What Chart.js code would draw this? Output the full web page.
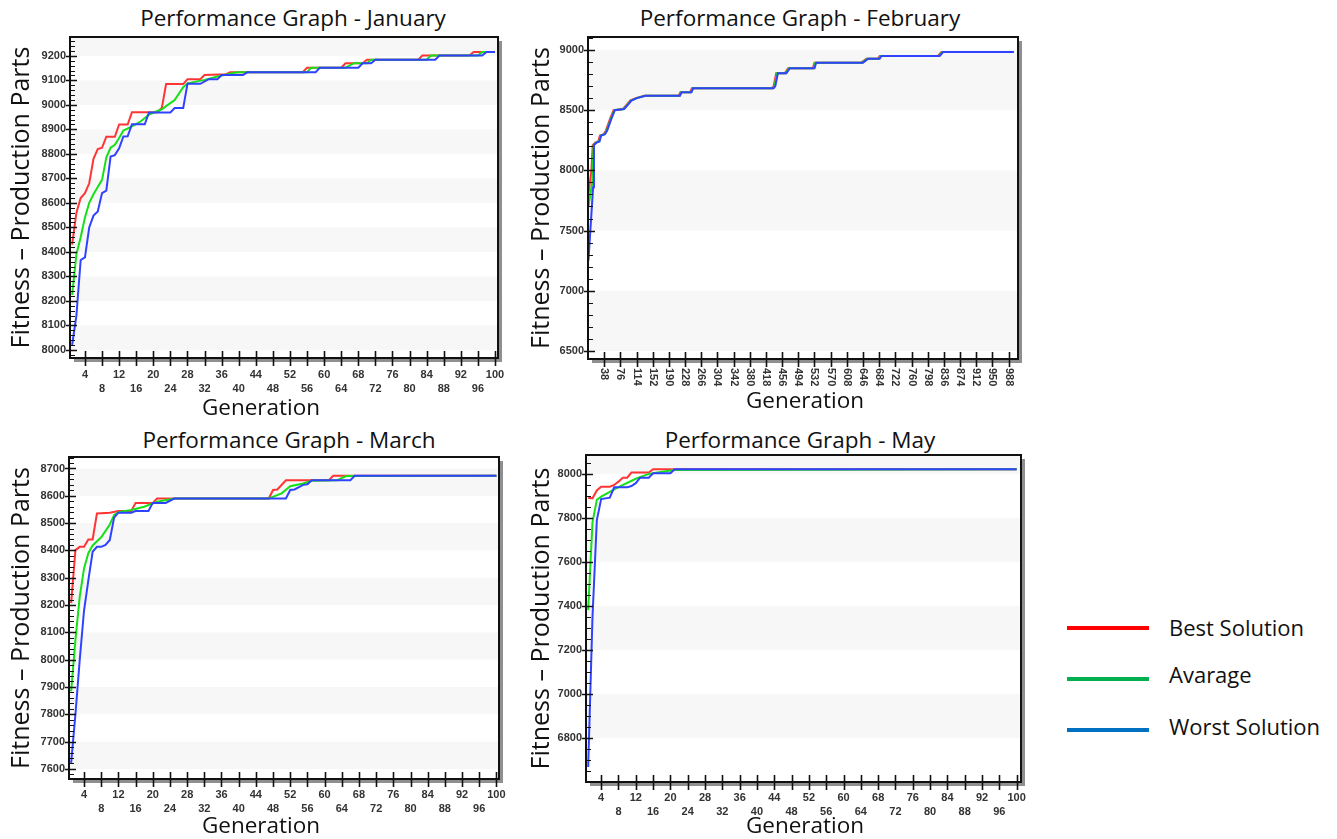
<!DOCTYPE html>
<html>
<head>
<meta charset="utf-8">
<script src="https://cdn.jsdelivr.net/npm/chart.js@4.4.1/dist/chart.umd.min.js"></script>
<style>
  body { margin: 0; background: #fff; }
  #page { position: relative; width: 1337px; height: 839px; overflow: hidden; font-family: "Open Sans", sans-serif; color: #111; }
  .panel { position: absolute; }
  .ttl { position: absolute; width: 400px; text-align: center; font-size: 22.5px; line-height: 26px; white-space: nowrap; }
  .xt { position: absolute; width: 200px; text-align: center; font-size: 22.5px; line-height: 26px; }
  .leg { position: absolute; left: 1067px; width: 82px; height: 4px; }
  .legtxt { position: absolute; left: 1169px; font-size: 22px; line-height: 26px; white-space: nowrap; }
</style>
</head>
<body>
<div id="page">
  <div class="ttl" style="left:93px;top:5px">Performance Graph - January</div>
  <div class="ttl" style="left:600px;top:5px">Performance Graph - February</div>
  <div class="ttl" style="left:89px;top:427px">Performance Graph - March</div>
  <div class="ttl" style="left:600px;top:427px">Performance Graph - May</div>

  <canvas class="panel" id="janChart" width="520" height="420" style="left:0;top:0"></canvas>
  <canvas class="panel" id="febChart" width="520" height="420" style="left:520px;top:0"></canvas>
  <canvas class="panel" id="marChart" width="520" height="419" style="left:0;top:420px"></canvas>
  <canvas class="panel" id="mayChart" width="520" height="419" style="left:520px;top:420px"></canvas>

  <div class="xt" style="left:161px;top:394px">Generation</div>
  <div class="xt" style="left:705px;top:387px">Generation</div>
  <div class="xt" style="left:161px;top:812px">Generation</div>
  <div class="xt" style="left:705px;top:812px">Generation</div>

  <div class="leg" style="top:626px;background:#ff0000"></div>
  <div class="leg" style="top:677px;background:#00b050"></div>
  <div class="leg" style="top:728px;background:#0070c0"></div>
  <div class="legtxt" style="top:614px">Best Solution</div>
  <div class="legtxt" style="top:661px">Avarage</div>
  <div class="legtxt" style="top:713px">Worst Solution</div>
</div>
<script>
// ===== DATA =====
const genTicks = [4, 8, 12, 16, 20, 24, 28, 32, 36, 40, 44, 48, 52, 56, 60, 64, 68, 72, 76, 80, 84, 88, 92, 96, 100];
const febGenTicks = [38, 76, 114, 152, 190, 228, 266, 304, 342, 380, 418, 456, 494, 532, 570, 608, 646, 684, 722, 760, 798, 836, 874, 912, 950, 988];

const janYTicks = [8000, 8100, 8200, 8300, 8400, 8500, 8600, 8700, 8800, 8900, 9000, 9100, 9200];
const febYTicks = [6500, 7000, 7500, 8000, 8500, 9000];
const marYTicks = [7600, 7700, 7800, 7900, 8000, 8100, 8200, 8300, 8400, 8500, 8600, 8700];
const mayYTicks = [6800, 7000, 7200, 7400, 7600, 7800, 8000];

// [generation, fitness]
const janBest = [[1, 8430], [2, 8560], [3, 8620], [4, 8640], [5, 8680], [6, 8780], [7, 8820], [8, 8825], [9, 8870], [11, 8870], [12, 8920], [14, 8920], [15, 8970], [21, 8970], [22, 8988], [23, 9085], [27, 9085], [28, 9105], [31, 9105], [32, 9122], [37, 9125], [38, 9133], [55, 9133], [56, 9152], [64, 9152], [65, 9170], [69, 9170], [70, 9184], [82, 9184], [83, 9201], [94, 9201], [95, 9216], [100, 9216]];
const janAvg = [[1, 8225], [2, 8390], [3, 8460], [4, 8540], [5, 8600], [6, 8635], [7, 8665], [8, 8694], [9, 8785], [10, 8825], [11, 8837], [12, 8865], [13, 8895], [15, 8912], [17, 8932], [19, 8960], [20, 8968], [22, 8982], [23, 8995], [25, 9020], [27, 9072], [28, 9088], [32, 9102], [35, 9116], [39, 9131], [40, 9133], [56, 9133], [57, 9152], [65, 9152], [67, 9170], [70, 9170], [71, 9184], [84, 9184], [85, 9201], [96, 9201], [97, 9216], [100, 9216]];
const janWorst = [[1, 8020], [2, 8140], [3, 8367], [4, 8378], [5, 8500], [6, 8548], [7, 8565], [8, 8640], [9, 8650], [10, 8789], [11, 8795], [12, 8823], [13, 8871], [14, 8872], [15, 8921], [18, 8921], [19, 8969], [24, 8969], [25, 8987], [27, 8987], [28, 9086], [31, 9086], [33, 9105], [35, 9105], [36, 9122], [41, 9122], [42, 9133], [58, 9133], [59, 9152], [68, 9152], [69, 9170], [71, 9170], [72, 9184], [86, 9184], [87, 9201], [97, 9201], [98, 9216], [100, 9216]];

const febBest = [[1, 7800], [8, 8000], [11, 8210], [17, 8230], [24, 8240], [28, 8290], [37, 8300], [42, 8330], [52, 8430], [60, 8500], [82, 8510], [92, 8550], [99, 8580], [112, 8600], [132, 8620], [213, 8620], [217, 8650], [240, 8650], [244, 8682], [432, 8682], [436, 8700], [442, 8806], [462, 8806], [470, 8848], [528, 8848], [532, 8895], [642, 8895], [654, 8928], [681, 8928], [685, 8950], [822, 8950], [830, 8983], [1000, 8983]];
const febAvg = [[1, 7700], [10, 7900], [13, 8210], [19, 8230], [26, 8240], [30, 8290], [39, 8300], [44, 8330], [54, 8430], [62, 8500], [84, 8510], [94, 8550], [101, 8580], [114, 8600], [134, 8620], [215, 8620], [219, 8650], [242, 8650], [246, 8682], [434, 8682], [438, 8700], [444, 8806], [464, 8806], [472, 8848], [530, 8848], [534, 8895], [644, 8895], [656, 8928], [683, 8928], [687, 8950], [824, 8950], [832, 8983], [1000, 8983]];
const febWorst = [[1, 7250], [12, 7860], [14, 8210], [20, 8230], [27, 8240], [31, 8290], [40, 8300], [45, 8330], [55, 8430], [63, 8500], [85, 8510], [95, 8550], [102, 8580], [115, 8600], [135, 8620], [216, 8620], [220, 8650], [243, 8650], [247, 8682], [436, 8682], [440, 8700], [446, 8806], [466, 8806], [474, 8848], [532, 8848], [536, 8895], [646, 8895], [658, 8928], [685, 8928], [689, 8950], [826, 8950], [834, 8983], [1000, 8983]];

const marBest = [[1, 8207], [2, 8401], [3, 8413], [4, 8413], [5, 8440], [6, 8440], [7, 8535], [10, 8538], [12, 8544], [15, 8544], [16, 8574], [20, 8574], [21, 8590], [47, 8590], [48, 8621], [49, 8623], [51, 8657], [61, 8657], [62, 8673], [100, 8673]];
const marAvg = [[1, 7884], [2, 8073], [3, 8231], [4, 8334], [5, 8390], [6, 8418], [8, 8448], [10, 8495], [11, 8530], [12, 8540], [15, 8548], [18, 8560], [21, 8578], [25, 8590], [47, 8590], [50, 8609], [52, 8635], [55, 8645], [57, 8655], [63, 8657], [65, 8672], [100, 8673]];
const marWorst = [[1, 7622], [2, 7800], [3, 8000], [4, 8180], [5, 8290], [6, 8395], [7, 8413], [8, 8413], [9, 8420], [10, 8438], [11, 8520], [12, 8538], [15, 8538], [16, 8544], [19, 8544], [20, 8574], [23, 8574], [25, 8590], [51, 8590], [52, 8621], [53, 8623], [55, 8640], [56, 8642], [57, 8657], [66, 8657], [67, 8673], [100, 8673]];

const mayBest = [[1, 7892], [2, 7889], [3, 7925], [4, 7942], [6, 7942], [7, 7950], [8, 7965], [9, 7983], [10, 7983], [11, 8006], [15, 8006], [16, 8021], [100, 8021]];
const mayAvg = [[1, 7381], [2, 7780], [3, 7882], [4, 7897], [8, 7940], [12, 7978], [15, 8000], [17, 8006], [21, 8018], [100, 8021]];
const mayWorst = [[1, 6668], [2, 7350], [3, 7790], [4, 7886], [6, 7892], [7, 7939], [10, 7939], [11, 7945], [12, 7958], [13, 7983], [15, 7983], [16, 8003], [20, 8003], [21, 8021], [100, 8021]];

// ===== FRAME / BANDS / TICKS =====
const framePlugin = {
  id: "frame",
  beforeDraw(chart, args, opts) {
    const { ctx, chartArea: a, scales: { y } } = chart;
    ctx.save();
    ctx.fillStyle = "#8f8f8f";
    ctx.fillRect(a.left + 4, a.top + 4, a.width, a.height);
    ctx.fillStyle = "#fff";
    ctx.fillRect(a.left, a.top, a.width, a.height);
    const t = y.ticks.map((k) => k.value);
    const step = t[1] - t[0];
    ctx.fillStyle = "#f7f7f7";
    for (let i = 0; i < t.length; i += 2) {
      const y0 = y.getPixelForValue(t[i]);
      const y1 = Math.max(y.getPixelForValue(t[i] + step), a.top);
      ctx.fillRect(a.left, y1, a.width, y0 - y1);
    }
    ctx.restore();
  },
  afterDraw(chart, args, opts) {
    const { ctx, chartArea: a, scales: { x, y } } = chart;
    ctx.save();
    ctx.strokeStyle = "#111";
    ctx.lineWidth = 2;
    ctx.strokeRect(a.left, a.top, a.width, a.height);

    // y ticks
    const major = y.ticks.map((k) => k.value);
    ctx.lineWidth = 1.5;
    ctx.beginPath();
    major.forEach((v) => {
      const p = Math.round(y.getPixelForValue(v)) + 0.5;
      ctx.moveTo(a.left - 4, p);
      ctx.lineTo(a.left + 7, p);
    });
    ctx.stroke();
    ctx.lineWidth = 1.2;
    ctx.beginPath();
    for (let v = Math.ceil(y.min / opts.minor) * opts.minor; v <= y.max; v += opts.minor) {
      if (major.includes(v)) continue;
      const p = Math.round(y.getPixelForValue(v)) + 0.5;
      ctx.moveTo(a.left, p);
      ctx.lineTo(a.left + 5, p);
    }
    ctx.stroke();

    // x ticks
    ctx.lineWidth = 1.6;
    ctx.beginPath();
    x.ticks.forEach((k) => {
      const p = Math.round(x.getPixelForValue(k.value)) + 0.5;
      ctx.moveTo(p, a.bottom - 7);
      ctx.lineTo(p, a.bottom + 8);
    });
    ctx.stroke();

    if (opts.rotate) {
      ctx.fillStyle = "#333";
      ctx.font = "bold 11px 'Liberation Sans', Arial";
      ctx.textAlign = "left";
      ctx.textBaseline = "middle";
      x.ticks.forEach((k) => {
        ctx.save();
        ctx.translate(x.getPixelForValue(k.value), a.bottom + 9);
        ctx.rotate(Math.PI / 2);
        ctx.fillText(String(k.value), 0, 0);
        ctx.restore();
      });
    }
    ctx.restore();
  },
};

const tickFont = { family: "'Liberation Sans', Arial", size: 11, weight: "bold", lineHeight: 1.25 };

function series(label, pts, color, order) {
  return {
    label,
    data: pts.map((p) => ({ x: p[0], y: p[1] })),
    borderColor: color,
    backgroundColor: color,
    borderWidth: 2,
    pointRadius: 0,
    tension: 0,
    fill: false,
    order,
  };
}

function drawPanel(id, o) {
  new Chart(document.getElementById(id), {
    type: "line",
    data: {
      datasets: [
        series("Best Solution", o.best, "#ff3535", 3),
        series("Avarage", o.avg, "#18e018", 2),
        series("Worst Solution", o.worst, "#2f42ff", 1),
      ],
    },
    options: {
      responsive: false,
      animation: false,
      events: [],
      layout: { padding: { left: 0, top: o.top, right: o.right, bottom: 0 } },
      plugins: {
        legend: { display: false },
        tooltip: { enabled: false },
        frame: { minor: o.minor, rotate: !!o.rotate },
      },
      scales: {
        x: {
          type: "linear",
          min: o.xMin,
          max: o.xMax,
          grid: { display: false, drawTicks: false },
          border: { display: false },
          afterBuildTicks: (s) => { s.ticks = o.xTicks.map((v) => ({ value: v })); },
          afterFit: (s) => { s.height = o.xh; },
          ticks: {
            display: !o.rotate,
            autoSkip: false,
            maxRotation: 0,
            minRotation: 0,
            padding: o.xpad,
            color: "#333",
            font: tickFont,
            callback: (v, i) => (i % 2 ? ["", String(v)] : String(v)),
          },
        },
        y: {
          type: "linear",
          min: o.yMin,
          max: o.yMax,
          grid: { display: false, drawTicks: false },
          border: { display: false },
          afterBuildTicks: (s) => { s.ticks = o.yTicks.map((v) => ({ value: v })); },
          afterFit: (s) => { s.width = o.yw; },
          ticks: { padding: 4, color: "#333", font: tickFont, callback: (v) => String(v) },
          title: {
            display: true,
            text: "Fitness – Production Parts",
            color: "#111",
            font: { family: "'Open Sans'", size: 25 },
            padding: { top: 7, bottom: 0 },
          },
        },
      },
    },
    plugins: [framePlugin],
  });
}

drawPanel("janChart", {
  best: janBest, avg: janAvg, worst: janWorst,
  xTicks: genTicks, yTicks: janYTicks,
  xMin: 0.5, xMax: 100.7, yMin: 7967, yMax: 9277, minor: 20,
  top: 37, right: 22, yw: 70, xh: 62, xpad: 10,
});
drawPanel("febChart", {
  best: febBest, avg: febAvg, worst: febWorst,
  xTicks: febGenTicks, yTicks: febYTicks,
  xMin: 0, xMax: 1010, yMin: 6433, yMax: 9108, minor: 100,
  top: 37, right: 22, yw: 68, xh: 61, xpad: 10, rotate: true,
});
drawPanel("marChart", {
  best: marBest, avg: marAvg, worst: marWorst,
  xTicks: genTicks, yTicks: marYTicks,
  xMin: 0.5, xMax: 100.6, yMin: 7563, yMax: 8742, minor: 20,
  top: 37, right: 21, yw: 69, xh: 60, xpad: 9,
});
drawPanel("mayChart", {
  best: mayBest, avg: mayAvg, worst: mayWorst,
  xTicks: genTicks, yTicks: mayYTicks,
  xMin: 0.5, xMax: 101, yMin: 6600, yMax: 8086, minor: 50,
  top: 35, right: 19, yw: 66, xh: 57, xpad: 9,
});
</script>
</body>
</html>
